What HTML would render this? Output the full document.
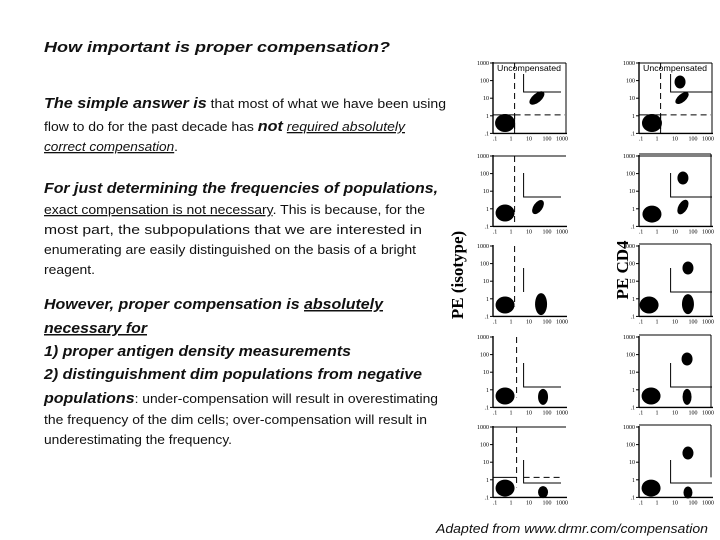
<!DOCTYPE html>
<html><head><meta charset="utf-8"><style>
html,body{margin:0;padding:0;background:#fff;}
svg{display:block;}
.t{font-family:"Liberation Sans",sans-serif;font-size:13px;fill:#111;}
.b{font-weight:bold;font-style:italic;font-size:15px;}
.u{text-decoration:underline;}
.i{font-style:italic;}
.tk{font-family:"Liberation Serif",serif;font-size:6px;fill:#000;}
.ax{font-family:"Liberation Serif",serif;font-weight:bold;font-size:17px;fill:#000;}
</style></head><body>
<svg id="slide" width="720" height="540" viewBox="0 0 720 540" xmlns="http://www.w3.org/2000/svg">
<g>
<text class="t b" x="44" y="52" textLength="346" lengthAdjust="spacingAndGlyphs">How important is proper compensation?</text>
<text class="t" x="44" y="108" textLength="402" lengthAdjust="spacingAndGlyphs"><tspan class="b">The simple answer is</tspan> that most of what we have been using</text>
<text class="t" x="44" y="131" textLength="361" lengthAdjust="spacingAndGlyphs">flow to do for the past decade has <tspan class="b">not</tspan> <tspan class="i u">required absolutely</tspan></text>
<text class="t" x="44" y="151" textLength="134" lengthAdjust="spacingAndGlyphs"><tspan class="i u">correct compensation</tspan>.</text>
<text class="t b" x="44" y="193" textLength="394" lengthAdjust="spacingAndGlyphs">For just determining the frequencies of populations,</text>
<text class="t" x="44" y="214" textLength="381" lengthAdjust="spacingAndGlyphs"><tspan class="u">exact compensation is not necessary</tspan>. This is because, for the</text>
<text class="t" x="44" y="234" textLength="378" lengthAdjust="spacingAndGlyphs">most part, the subpopulations that we are interested in</text>
<text class="t" x="44" y="254" textLength="372" lengthAdjust="spacingAndGlyphs">enumerating are easily distinguished on the basis of a bright</text>
<text class="t" x="44" y="274" textLength="51" lengthAdjust="spacingAndGlyphs">reagent.</text>
<text class="t b" x="44" y="309" textLength="339" lengthAdjust="spacingAndGlyphs">However, proper compensation is <tspan class="u">absolutely</tspan></text>
<text class="t b u" x="44" y="333" textLength="103" lengthAdjust="spacingAndGlyphs">necessary for</text>
<text class="t b" x="44" y="356" textLength="307" lengthAdjust="spacingAndGlyphs">1) proper antigen density measurements</text>
<text class="t b" x="44" y="379" textLength="378" lengthAdjust="spacingAndGlyphs">2) distinguishment dim populations from negative</text>
<text class="t" x="44" y="403" textLength="394" lengthAdjust="spacingAndGlyphs"><tspan class="b">populations</tspan>: under-compensation will result in overestimating</text>
<text class="t" x="44" y="424" textLength="383" lengthAdjust="spacingAndGlyphs">the frequency of the dim cells; over-compensation will result in</text>
<text class="t" x="44" y="444" textLength="188" lengthAdjust="spacingAndGlyphs">underestimating the frequency.</text>
<text class="t i" x="436" y="533" textLength="272" lengthAdjust="spacingAndGlyphs">Adapted from www.drmr.com/compensation</text>
</g>
<text class="ax" transform="translate(463,275) rotate(-90)" text-anchor="middle">PE (isotype)</text>
<text class="ax" transform="translate(628,270) rotate(-90)" text-anchor="middle">PE CD4</text>
<g id="plots"></g>
</svg>
<script>
// log10 coordinates of each population
const negX = [-0.33,-0.28,-0.33,-0.28,-0.33,-0.44,-0.33,-0.33,-0.33,-0.33];
const negY = [-0.41,-0.41,-0.24,-0.30,-0.35,-0.35,-0.35,-0.35,-0.47,-0.47];
const posX = [1.44,1.39,1.50,1.44,1.67,1.72,1.78,1.67,1.78,1.72];
const posY = [1.01,1.01,0.10,0.10,-0.30,-0.30,-0.40,-0.40,-0.70,-0.72];
const brightX = [null,1.28,null,1.44,null,1.72,null,1.67,null,1.72];
const brightY = [null,1.92,null,1.75,null,1.75,null,1.75,null,1.52];
const yTicks = ["1000","100","10","1",".1"];
const xTicks = [".1","1","10","100","1000"];
const rowTops = [63,156,246,337,427];
const colLeft = [493,639];
const DX = 18, DY = 17.6;
const NS = "http://www.w3.org/2000/svg";
const root = document.getElementById('plots');
function mk(tag, attrs, parent){const e=document.createElementNS(NS,tag);for(const k in attrs)e.setAttribute(k,attrs[k]);(parent||root).appendChild(e);return e;}
const posShape = [[9,4.5,-40],[8,4,-40],[8,4.5,-55],[8,4.5,-60],[6,11,0],[6,10,0],[5,8,0],[4.5,8,0],[5,6,0],[4.5,6,0]];
for(let p=0;p<10;p++){
  const r=Math.floor(p/2), c=p%2;
  const x0=colLeft[c], top=rowTops[r], yb=top+4*DY;
  const sx=v=>x0+(v+1)*DX, sy=v=>yb-(v+1)*DY;
  const g=mk('g',{});
  
  
  const L={stroke:'#000','stroke-width':1,fill:'none'};
  mk('line',Object.assign({x1:x0,y1:top-1,x2:x0,y2:yb},L,{'stroke-width':1.4}),g);
  mk('line',Object.assign({x1:x0,y1:yb,x2:x0+74,y2:yb},L,{'stroke-width':1.4}),g);
  for(let i=0;i<5;i++){
    mk('line',Object.assign({x1:x0-3,y1:sy(3-i),x2:x0,y2:sy(3-i)},L),g);
    const t=mk('text',{class:'tk',x:x0-4,y:sy(3-i)+2,'text-anchor':'end'},g);t.textContent=yTicks[i];
    
    
    const t2=mk('text',{class:'tk',x:sx(i-1)+(i==0?2:(i==4?-3:0)),y:yb+7,'text-anchor':'middle'},g);t2.textContent=xTicks[i];
    
    
  }
  const xr=x0+74, gx=sx(0.7)+(c?1:0), dxv=sx(0.2);
  if(r==0||r==1||r==4&&c==0) mk('line',Object.assign({x1:x0,y1:top,x2:x0+73,y2:top},L),g);
  if(c==1&&r>0){ mk('line',Object.assign({x1:x0,y1:top-2,x2:x0+72,y2:top-2},L),g); mk('line',Object.assign({x1:x0+72,y1:top-2,x2:x0+72,y2:r==4?yb-20:yb},L),g);}
  if(r==0){ mk('line',Object.assign({x1:x0+73,y1:top,x2:x0+73,y2:yb},L),g);
    const t=mk('text',{x:x0+4,y:top+8,'font-family':'Liberation Sans, sans-serif','font-size':8.5,fill:'#000',textLength:64,lengthAdjust:'spacingAndGlyphs'},g);t.textContent='Uncompensated';
    
    }
  if(c==0||r==0) mk('line',Object.assign({x1:dxv+(r>2&&c==0?2:0),y1:top,x2:dxv+(r>2&&c==0?2:0),y2:r==0||r==1?yb:yb-10,'stroke-dasharray':'6,4'},L),g);
  if(r==0){ mk('line',Object.assign({x1:dxv,y1:sy(0.05),x2:xr-2,y2:sy(0.05),'stroke-dasharray':'6,4'},L),g);
    mk('polyline',Object.assign({points:`${x0},${sy(0.05)} ${dxv},${sy(0.05)} ${dxv},${yb}`},L),g);}
  if(r==4&&c==0){ mk('line',Object.assign({x1:x0,y1:yb-20,x2:dxv+2,y2:yb-20},L),g);
    mk('line',Object.assign({x1:gx,y1:yb-20,x2:x0+67,y2:yb-20,'stroke-dasharray':'6,4'},L),g);}
  const gTop=[top+11,top+17,top+22,top+26,top+33][r], gBot=[top+29,top+41,top+46,top+50,top+56][r];
  if(!(r==2&&c==0)) mk('polyline',Object.assign({points:`${gx},${gTop} ${gx},${gBot} ${c?x0+73:x0+68},${gBot}`},L),g);
  else mk('line',Object.assign({x1:gx,y1:gTop,x2:gx,y2:gBot},L),g);
  const n=mk('ellipse',{cx:sx(negX[p]),cy:sy(negY[p]),rx:r==0?10:9.5,ry:r==0?9:8.5,fill:'#000'},g);
  
  
  const s=posShape[p];
  const e=mk('ellipse',{cx:sx(posX[p]),cy:sy(posY[p]),rx:s[0],ry:s[1],fill:'#000',transform:`rotate(${s[2]} ${sx(posX[p])} ${sy(posY[p])})`},g);
  
  
  if(brightX[p]!==null){
    const b=mk('ellipse',{cx:sx(brightX[p]),cy:sy(brightY[p]),rx:5.5,ry:6.5,fill:'#000'},g);
    
    
  }
}
</script>
</body></html>
